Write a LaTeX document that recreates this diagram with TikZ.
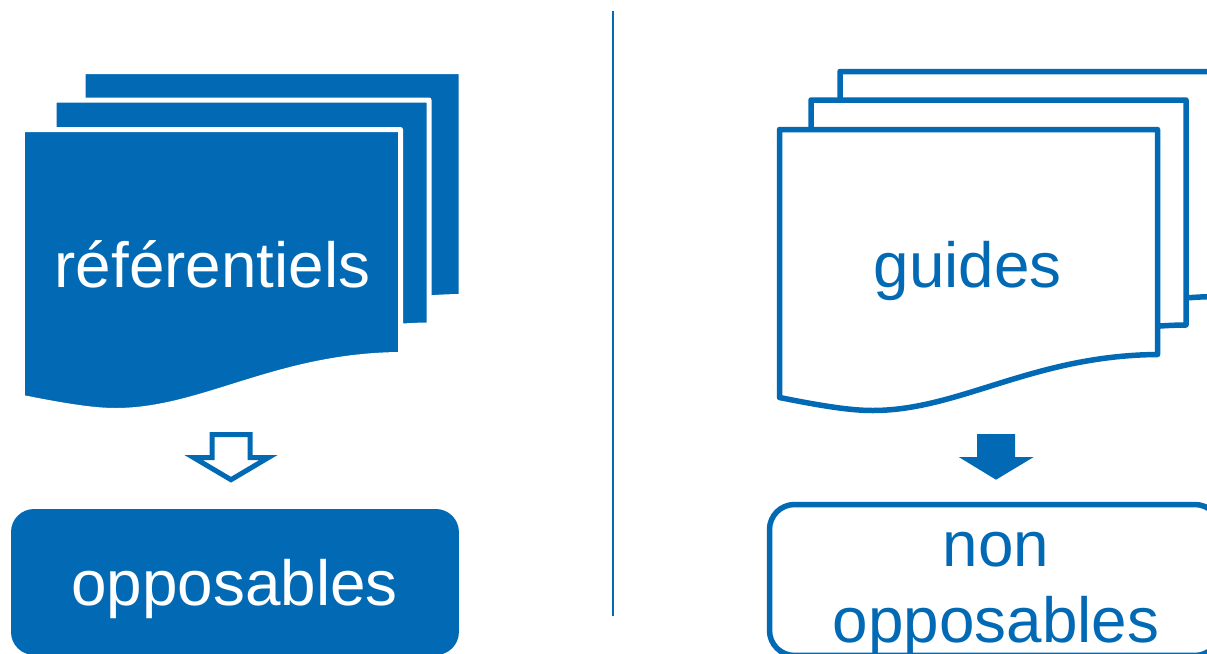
\documentclass[tikz,border=0pt]{standalone}
\usepackage{fontspec}
\setmainfont{Liberation Sans}
\usepackage{xcolor}
\usepackage{tikz}
\definecolor{refblue}{RGB}{2,106,180}
\tikzset{
  pics/sheetshape/.style={code={
    \path[pic actions] (0,0) -- (#1,0) -- (#1,225) .. controls (#1-125,226) and (180,281) .. (93,281)
      .. controls (72,281) and (45,277) .. (0,268) -- cycle;}},
  solidsheet/.style={fill=refblue,draw=white,line width=0.1cm,line join=round},
  opensheet/.style={fill=white,draw=refblue,line width=0.11cm,line join=round},
  bigword/.style={font=\fontsize{36.3}{43.2}\selectfont,anchor=base,align=center,inner sep=0pt},
  solidbox/.style={fill=refblue,rounded corners=0.46cm,anchor=north west,inner sep=0pt,outer sep=0pt},
  openbox/.style={draw=refblue,fill=white,line width=0.11cm,rounded corners=0.5cm,anchor=north west,inner sep=0pt,outer sep=0pt}
}
\begin{document}
\begin{tikzpicture}[x=0.02cm,y=-0.02cm]
  \clip (0,0) rectangle (1207,653);
  \draw[refblue,line width=0.04cm] (613,11) -- (613,616);
  % left column
  \pic[solidsheet] at (83,71.5) {sheetshape=378};
  \pic[solidsheet] at (54,100) {sheetshape=375};
  \pic[solidsheet] at (22.5,129.5) {sheetshape=378};
  \node[bigword,text=white] (referentiels) at (212.5,287) {référentiels};
  \draw[opensheet,line width=0.1cm,miter limit=10,line join=miter] (212,434.5) -- (250,434.5) -- (250,457.5) -- (268.5,457.5)
    -- (231,479.7) -- (193.5,457.5) -- (212,457.5) -- cycle;
  \node[solidbox,minimum width=8.96cm,minimum height=2.92cm] (leftbox) at (11,509) {};
  \node[bigword,text=white] (opposables) at (234.5,605.5) {opposables};
  % right column
  \pic[opensheet] at (840,71.5) {sheetshape=378};
  \pic[opensheet] at (811,100) {sheetshape=375};
  \pic[opensheet] at (779.5,129.5) {sheetshape=378};
  \node[bigword,text=refblue] (guides) at (967.5,287) {guides};
  \fill[refblue] (977,434) -- (1015,434) -- (1015,457) -- (1033.7,457) -- (996,479.7) -- (958.7,457) -- (977,457) -- cycle;
  \node[openbox,minimum width=9.01cm,minimum height=3.02cm] (rightbox) at (769.5,504.5) {};
  \node[bigword,text=refblue] (nonopposables) at (996,642) {non\\opposables};
\end{tikzpicture}
\end{document}
